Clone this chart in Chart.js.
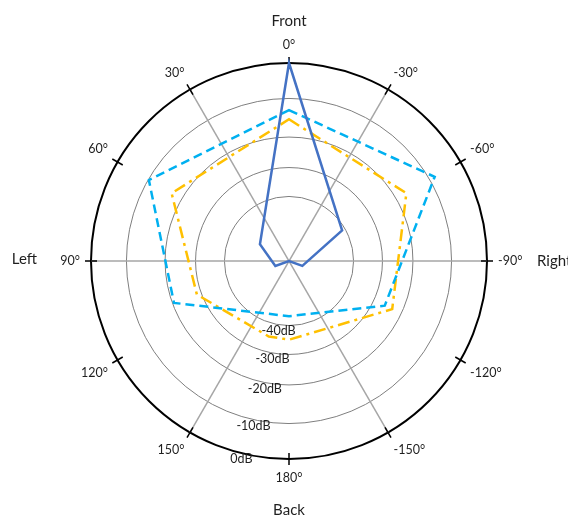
<!DOCTYPE html>
<html>
<head>
<meta charset="utf-8">
<script src="https://cdn.jsdelivr.net/npm/chart.js@4.4.0/dist/chart.umd.min.js"></script>
<style>
html,body{margin:0;padding:0;background:#fff;}
#wrap{width:568px;height:517px;position:relative;}
</style>
</head>
<body>
<div id="wrap"><canvas id="c" width="568" height="517"></canvas></div>
<script>
// ---- categories: direction angles (deg), clockwise from the top ----
const categories = [0,-5,-10,-15,-20,-25,-30,-35,-40,-45,-50,-55,-60,-65,-70,-75,-80,-85,-90,-95,-100,-105,-110,-115,-120,-125,-130,-135,-140,-145,-150,-155,-160,-165,-170,-175,
  180,175,170,165,160,155,150,145,140,135,130,125,120,115,110,105,100,95,90,85,80,75,70,65,60,55,50,45,40,35,30,25,20,15,10,5];

// ---- series: vertex angles and levels (dB) ----
const blueAngles   = [0, -60, -110, 180, 110, 60];
const blueDb       = [0, -41, -55.6, -60, -55.5, -49.6];

const cyanAngles   = [0, -60, -115, 180, 110, 60];
const cyanDb       = [-13.0, -8.4, -26.0, -42.9, -20.5, -10.2];

const orangeAngles = [0, -60, -115, 180, 165, 110, 60];
const orangeDb     = [-15.4, -17.0, -23.3, -35.1, -35.3, -28.5, -17.0];

// ---- radial tick labels ----
const ringValues = [-40, -30, -20, -10, 0];
const ringLabels = ['-40dB', '-30dB', '-20dB', '-10dB', '0dB'];

// ---- side captions ----
const sideLabels = { front: 'Front', back: 'Back', left: 'Left', right: 'Right' };

// axis calibration (ring spacing of the original drawing is not uniform)
const RING_DB   = [-60, -40, -30, -20, -10, 0];
const RING_FRAC = [0, 0.326, 0.472, 0.626, 0.821, 1];

class DbRadialScale extends Chart.RadialLinearScale {
  getDistanceFromCenterForValue(value) {
    if (value === null || value === undefined || isNaN(value)) return NaN;
    let f = 0;
    if (value <= RING_DB[0]) f = 0;
    else if (value >= RING_DB[RING_DB.length - 1]) f = 1;
    else {
      for (let i = 1; i < RING_DB.length; i++) {
        if (value <= RING_DB[i]) {
          const t = (value - RING_DB[i - 1]) / (RING_DB[i] - RING_DB[i - 1]);
          f = RING_FRAC[i - 1] + t * (RING_FRAC[i] - RING_FRAC[i - 1]);
          break;
        }
      }
    }
    return f * this.drawingArea;
  }
}
DbRadialScale.id = 'dbRadial';
Chart.register(DbRadialScale);

function toSeries(angles, values) {
  return categories.map(a => {
    const k = angles.indexOf(a);
    return k >= 0 ? values[k] : null;
  });
}

const SPOKES = [90, -90, 30, -30, 150, -150];
const TEXT = '#1f1f1f';

const decorations = {
  id: 'decorations',
  beforeDatasetsDraw(chart) {
    const s = chart.scales.r;
    const R = s.getDistanceFromCenterForValue(s.max);
    const c = chart.ctx;
    c.save();
    c.strokeStyle = '#000';
    c.lineWidth = 1.5;
    categories.forEach((a, i) => {
      if (a % 30 !== 0) return;
      const p1 = s.getPointPosition(i, R - 6);
      const p2 = s.getPointPosition(i, R + 6);
      c.beginPath(); c.moveTo(p1.x, p1.y); c.lineTo(p2.x, p2.y); c.stroke();
    });
    c.restore();
  },
  afterDraw(chart) {
    const s = chart.scales.r;
    const R = s.getDistanceFromCenterForValue(s.max);
    const xc = s.xCenter, yc = s.yCenter;
    const c = chart.ctx;
    c.save();
    c.fillStyle = TEXT;
    c.textBaseline = 'middle';
    c.textAlign = 'center';
    c.font = '12.5px Lato';
    ringValues.forEach((v, i) => {
      const d = s.getDistanceFromCenterForValue(v);
      const th = (6 + 7.5 * d / R) * Math.PI / 180;
      const dist = d + 6;
      c.fillText(ringLabels[i], xc - dist * Math.sin(th), yc + dist * Math.cos(th));
    });
    c.font = '15px Lato';
    c.fillText(sideLabels.front, xc, yc - R - 42);
    c.fillText(sideLabels.back, xc, yc + R + 51);
    c.textAlign = 'right';
    c.fillText(sideLabels.left, xc - R - 54, yc - 2);
    c.textAlign = 'left';
    c.fillText(sideLabels.right, xc + R + 50, yc);
    c.restore();
  }
};

new Chart(document.getElementById('c'), {
  type: 'radar',
  data: {
    labels: categories,
    datasets: [
      { label: 'Solid', data: toSeries(blueAngles, blueDb), borderColor: '#4472C4', borderWidth: 2.5,
        backgroundColor: 'rgba(0,0,0,0)', fill: false, spanGaps: true, pointRadius: 0 },
      { label: 'Dashed', data: toSeries(cyanAngles, cyanDb), borderColor: '#00B0F0', borderWidth: 2.5,
        borderDash: [9, 5], backgroundColor: 'rgba(0,0,0,0)', fill: false, spanGaps: true, pointRadius: 0 },
      { label: 'Dash-dot', data: toSeries(orangeAngles, orangeDb), borderColor: '#FFC000', borderWidth: 2.5,
        borderDash: [12, 5, 3, 5], backgroundColor: 'rgba(0,0,0,0)', fill: false, spanGaps: true, pointRadius: 0 }
    ]
  },
  options: {
    responsive: false,
    animation: false,
    layout: { padding: { left: 10, right: 0, top: 37, bottom: 31 } },
    plugins: { legend: { display: false }, tooltip: { enabled: false } },
    elements: { point: { radius: 0, hoverRadius: 0 }, line: { tension: 0 } },
    scales: {
      r: {
        type: 'dbRadial',
        min: -60,
        max: 0,
        ticks: { display: false, stepSize: 10 },
        grid: {
          circular: true,
          color: ctx => (ctx.tick && ctx.tick.value === 0 ? '#000000' : '#7f7f7f'),
          lineWidth: ctx => {
            const v = ctx.tick ? ctx.tick.value : null;
            if (v === 0) return 2;
            if (v === -50 || v === -60) return 0;
            return 1;
          }
        },
        angleLines: {
          display: true,
          color: '#a6a6a6',
          lineWidth: ctx => (SPOKES.includes(categories[ctx.index]) ? 1.5 : 0)
        },
        pointLabels: {
          display: true,
          padding: 11,
          color: TEXT,
          font: { family: 'Lato', size: 12.5 },
          callback: (lbl) => (lbl % 30 === 0 ? lbl + '°' : '')
        }
      }
    }
  },
  plugins: [decorations]
});
</script>
</body>
</html>
